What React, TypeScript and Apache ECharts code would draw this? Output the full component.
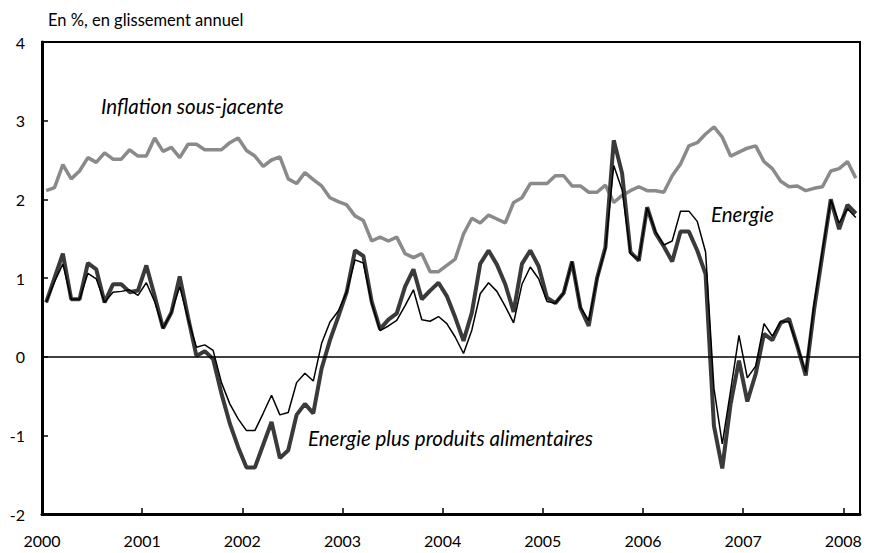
import React, { useEffect, useRef } from "react";
import * as echarts from "echarts";

// Tick labels (one per January, every 12 months from January 2000)
const yearLabels = ["2000", "2001", "2002", "2003", "2004", "2005", "2006", "2007", "2008"];

// Monthly values, January 2000 to February 2008 (% y/y)
const coreInflation = [
  2.11, 2.15, 2.44, 2.26, 2.36, 2.53, 2.47, 2.59, 2.51, 2.51, 2.63, 2.55,
  2.55, 2.78, 2.61, 2.66, 2.53, 2.70, 2.70, 2.63, 2.63, 2.63, 2.72, 2.78,
  2.62, 2.55, 2.42, 2.50, 2.54, 2.26, 2.20, 2.34, 2.25, 2.17, 2.02, 1.97,
  1.93, 1.79, 1.73, 1.47, 1.52, 1.47, 1.52, 1.31, 1.26, 1.31, 1.08, 1.08,
  1.16, 1.24, 1.56, 1.76, 1.70, 1.80, 1.75, 1.70, 1.96, 2.02, 2.20, 2.20,
  2.20, 2.30, 2.30, 2.17, 2.17, 2.09, 2.09, 2.18, 1.96, 2.05, 2.11, 2.16,
  2.11, 2.11, 2.09, 2.30, 2.45, 2.68, 2.72, 2.83, 2.92, 2.79, 2.55, 2.60,
  2.65, 2.68, 2.48, 2.39, 2.23, 2.16, 2.17, 2.11, 2.14, 2.16, 2.36, 2.39,
  2.48, 2.27,
];

const energy = [
  0.69, 0.95, 1.18, 0.73, 0.73, 1.06, 0.99, 0.69, 0.82, 0.83, 0.85, 0.78,
  0.94, 0.70, 0.36, 0.56, 0.89, 0.48, 0.12, 0.15, 0.08, -0.33, -0.60, -0.79,
  -0.94, -0.94, -0.72, -0.49, -0.74, -0.71, -0.33, -0.21, -0.31, 0.17, 0.44, 0.58,
  0.82, 1.23, 1.19, 0.68, 0.33, 0.39, 0.46, 0.65, 0.85, 0.47, 0.45, 0.51,
  0.42, 0.25, 0.04, 0.34, 0.80, 0.94, 0.83, 0.64, 0.43, 0.92, 1.14, 0.99,
  0.70, 0.68, 0.81, 1.21, 0.63, 0.46, 0.99, 1.37, 2.43, 2.12, 1.31, 1.23,
  1.89, 1.59, 1.42, 1.47, 1.85, 1.85, 1.72, 1.33, -0.40, -1.11, -0.43, 0.27,
  -0.27, -0.12, 0.42, 0.26, 0.45, 0.44, 0.14, -0.20, 0.67, 1.35, 1.99, 1.70,
  1.88, 1.77,
];

const energyFood = [
  0.69, 1.00, 1.31, 0.73, 0.73, 1.19, 1.11, 0.69, 0.92, 0.92, 0.82, 0.84,
  1.16, 0.77, 0.36, 0.56, 1.02, 0.50, 0.01, 0.07, -0.03, -0.47, -0.85, -1.15,
  -1.41, -1.41, -1.12, -0.83, -1.29, -1.19, -0.74, -0.60, -0.72, -0.15, 0.21, 0.51,
  0.82, 1.35, 1.28, 0.70, 0.35, 0.47, 0.55, 0.89, 1.11, 0.73, 0.84, 0.94,
  0.77, 0.50, 0.20, 0.56, 1.18, 1.35, 1.17, 0.92, 0.57, 1.18, 1.35, 1.15,
  0.75, 0.68, 0.81, 1.21, 0.62, 0.39, 1.00, 1.39, 2.75, 2.33, 1.33, 1.22,
  1.90, 1.57, 1.40, 1.21, 1.59, 1.59, 1.35, 1.05, -0.88, -1.42, -0.60, -0.05,
  -0.57, -0.22, 0.29, 0.21, 0.43, 0.48, 0.13, -0.24, 0.60, 1.30, 2.00, 1.62,
  1.93, 1.82,
];

const seriesNames = ["Inflation sous-jacente", "Energie", "Energie plus produits alimentaires"];
const unitLabel = "En %, en glissement annuel";

const toPoints = (values: number[]) => values.map((v, i) => [i + 0.5, v]);

export default function App() {
  const ref = useRef<HTMLDivElement>(null);

  useEffect(() => {
    if (!ref.current) return;
    const chart = echarts.init(ref.current, null, { renderer: "svg" });
    const font = "Lato";
    chart.setOption({
      animation: false,
      backgroundColor: "#ffffff",
      textStyle: { fontFamily: font },
      title: {
        text: unitLabel,
        left: 48,
        top: 11,
        padding: 0,
        textStyle: { fontFamily: font, fontSize: 16.5, fontWeight: "normal", color: "#000" },
      },
      grid: {
        left: 42,
        right: 11,
        top: 42,
        bottom: 39,
        show: true,
        borderColor: "#000",
        borderWidth: 2,
        backgroundColor: "transparent",
      },
      xAxis: {
        type: "value",
        min: 0,
        max: 98,
        interval: 12,
        axisLine: { show: true, onZero: false, lineStyle: { color: "#000", width: 3 } },
        axisTick: { show: true, inside: true, length: 6, lineStyle: { color: "#000", width: 1.5 } },
        axisLabel: {
          color: "#000",
          fontFamily: font,
          fontSize: 16,
          margin: 18,
          formatter: (v: number) => (v % 12 === 0 ? yearLabels[v / 12] ?? "" : ""),
        },
        splitLine: { show: false },
      },
      yAxis: {
        type: "value",
        min: -2,
        max: 4,
        interval: 1,
        axisLine: { show: true, onZero: false, lineStyle: { color: "#000", width: 3 } },
        axisTick: { show: true, inside: true, length: 6, lineStyle: { color: "#000", width: 1.5 } },
        axisLabel: { color: "#000", fontFamily: font, fontSize: 16, margin: 17 },
        splitLine: { show: false },
      },
      series: [
        {
          name: seriesNames[0],
          type: "line",
          data: toPoints(coreInflation),
          showSymbol: false,
          symbol: "none",
          lineStyle: { color: "#8a8a8a", width: 3.5 },
          z: 2,
        },
        {
          name: seriesNames[2],
          type: "line",
          data: toPoints(energyFood),
          showSymbol: false,
          symbol: "none",
          lineStyle: { color: "#3a3a3a", width: 4 },
          z: 3,
        },
        {
          name: seriesNames[1],
          type: "line",
          data: toPoints(energy),
          showSymbol: false,
          symbol: "none",
          lineStyle: { color: "#000", width: 1.5 },
          z: 4,
          markLine: {
            silent: true,
            symbol: "none",
            label: { show: false },
            lineStyle: { color: "#000", width: 1.5, type: "solid" },
            data: [{ yAxis: 0 }],
          },
        },
      ],
      graphic: [
        {
          type: "text",
          left: 101,
          top: 96,
          style: { text: seriesNames[0], font: `italic 20.5px ${font}`, fill: "#000" },
        },
        {
          type: "text",
          left: 711,
          top: 204,
          style: { text: seriesNames[1], font: `italic 20.5px ${font}`, fill: "#000" },
        },
        {
          type: "text",
          left: 308,
          top: 428,
          style: { text: seriesNames[2], font: `italic 20.5px ${font}`, fill: "#000" },
        },
      ],
    });
    return () => chart.dispose();
  }, []);

  return (
    <div
      ref={ref}
      style={{ position: "fixed", left: 0, top: 0, width: 871, height: 553, background: "#fff" }}
    />
  );
}
